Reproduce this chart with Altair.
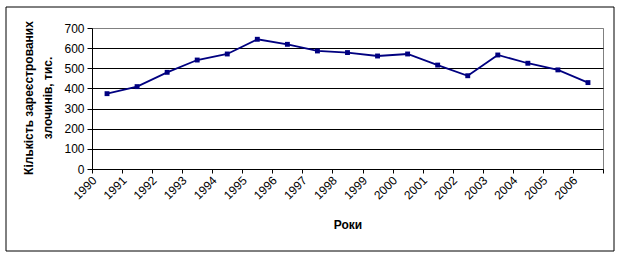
import altair as alt
import pandas as pd

years = [str(y) for y in range(1990, 2007)]
crimes = [374, 409, 480, 541, 571, 644, 619, 586, 578, 561, 571, 516, 463, 566, 525, 492, 429]
y_ticks = [0, 100, 200, 300, 400, 500, 600, 700]

y_title_lines = ["Кількість зареєстрованих", "злочинів, тис."]
x_title = "Роки"

df = pd.DataFrame({"year": years, "value": crimes})

FONT = "Liberation Sans"
NAVY = "#000080"

base = alt.Chart(df).encode(
    x=alt.X(
        "year:O",
        sort=years,
        bandPosition=0.5,
        scale=alt.Scale(type="band", paddingInner=0, paddingOuter=0),
        axis=alt.Axis(
            title=x_title,
            labelAngle=-45,
            labelAlign="right",
            labelBaseline="middle",
            labelOffset=-13,
            labelPadding=5,
            labelFont=FONT,
            labelFontSize=12,
            labelColor="black",
            tickBand="extent",
            tickSize=4,
            tickColor="black",
            domainColor="black",
            grid=False,
            titleFont=FONT,
            titleFontSize=12,
            titleFontWeight="bold",
            titleColor="black",
            titleY=55,
            titleBaseline="middle",
        ),
    ),
    y=alt.Y(
        "value:Q",
        scale=alt.Scale(domain=[0, 700], nice=False),
        axis=alt.Axis(
            title=None,
            values=y_ticks,
            labelFont=FONT,
            labelFontSize=12,
            labelColor="black",
            labelPadding=3,
            tickSize=5,
            tickColor="black",
            domainColor="black",
            grid=True,
            gridColor={"condition": {"test": "datum.value === 700", "value": "#808080"}, "value": "black"},
            gridOpacity=1,
        ),
    ),
)

line = base.mark_line(
    color=NAVY,
    strokeWidth=1.8,
    point=alt.OverlayMarkDef(shape="square", size=24, filled=True, color=NAVY, opacity=1),
)

one = pd.DataFrame({"a": [0]})

frame = alt.Chart(one).mark_rect(
    fill=None, stroke="black", strokeWidth=1
).encode(
    x=alt.value(-86), x2=alt.value(522), y=alt.value(-21), y2=alt.value(223)
)

title_marks = [
    alt.Chart(one).mark_text(
        angle=270, align="center", baseline="middle", font=FONT, fontSize=12,
        fontWeight="bold", color="black",
    ).encode(x=alt.value(xv), y=alt.value(70), text=alt.value(txt))
    for txt, xv in zip(y_title_lines, [-63, -44.5])
]

chart = alt.layer(line, frame, *title_marks).properties(
    width=511,
    height=141,
    autosize=alt.AutoSizeParams(type="none"),
    padding={"left": 92, "top": 28, "right": 18, "bottom": 88},
    background="white",
).configure_view(
    stroke="#808080", strokeWidth=1
)

chart.save("out.html", embed_options={"renderer": "svg", "actions": False})
